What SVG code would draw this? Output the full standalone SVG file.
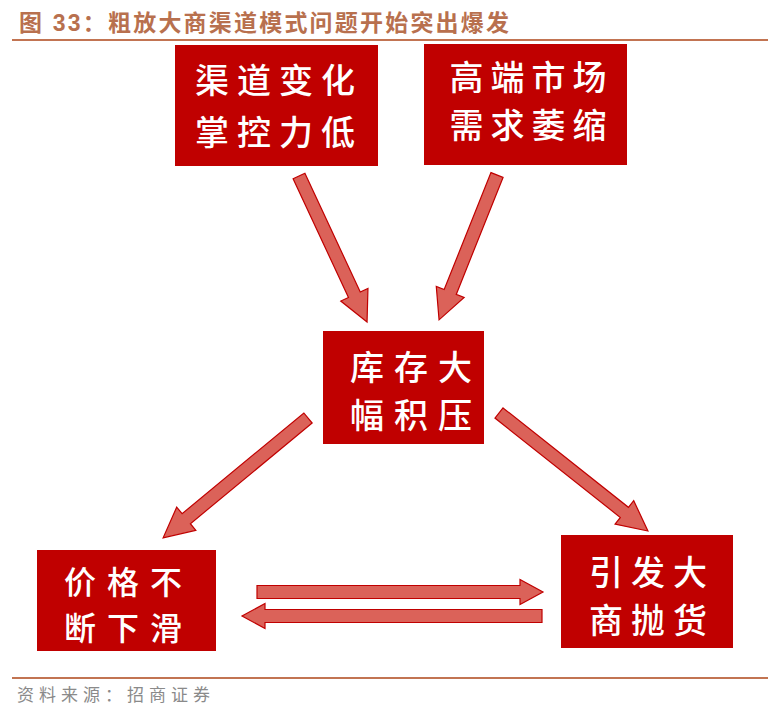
<svg xmlns="http://www.w3.org/2000/svg" width="768" height="718" viewBox="0 0 768 718">
<style>
.title{font-family:"Liberation Sans","Noto Sans CJK SC",sans-serif;font-weight:700;font-size:23px;fill:#B8704E}
.src{font-family:"Noto Sans CJK SC",sans-serif;font-size:17px;fill:#8a8a8a}
.box{fill:#C00000}
.lbl{font-family:"Noto Sans CJK SC",sans-serif;font-weight:500;font-size:34px;fill:#ffffff;dominant-baseline:central}
.sm{font-size:32px}
.arr{fill:#DB6259;stroke:#C00000;stroke-width:1.2;stroke-linejoin:miter}
.rule{stroke:#C27452;stroke-width:2}
</style>
<rect width="768" height="718" fill="#ffffff"/>
<text class="title" x="19" y="31" textLength="490" lengthAdjust="spacing">图 33：粗放大商渠道模式问题开始突出爆发</text>
<line class="rule" x1="12" y1="40" x2="768" y2="40"/>

<g id="connectors">
  <path class="arr" transform="translate(299,176) rotate(65)" d="M0,-6.5 L131,-6.5 L131,-15 L161,0 L131,15 L131,6.5 L0,6.5 Z"/>
  <path class="arr" transform="translate(497,175) rotate(111.8)" d="M0,-6.5 L126,-6.5 L126,-15 L156,0 L126,15 L126,6.5 L0,6.5 Z"/>
  <path class="arr" transform="translate(308,418) rotate(140.4)" d="M0,-6.5 L158,-6.5 L158,-15 L188,0 L158,15 L158,6.5 L0,6.5 Z"/>
  <path class="arr" transform="translate(499,413) rotate(38.4)" d="M0,-6.5 L160,-6.5 L160,-15 L190,0 L160,15 L160,6.5 L0,6.5 Z"/>
  <path class="arr" transform="translate(257,592)" d="M0,-6.5 L263,-6.5 L263,-12.5 L286,0 L263,12.5 L263,6.5 L0,6.5 Z"/>
  <path class="arr" transform="translate(542,616) rotate(180)" d="M0,-6.5 L277,-6.5 L277,-12.5 L300,0 L277,12.5 L277,6.5 L0,6.5 Z"/>
</g>

<g id="node-channel">
  <rect class="box" x="175" y="45" width="203" height="121"/>
  <text class="lbl" x="275" y="78" text-anchor="middle" textLength="160" lengthAdjust="spacing">渠道变化</text>
  <text class="lbl" x="275" y="130" text-anchor="middle" textLength="160" lengthAdjust="spacing">掌控力低</text>
</g>
<g id="node-highend">
  <rect class="box" x="424" y="44" width="203" height="121"/>
  <text class="lbl" x="528" y="75" text-anchor="middle" textLength="157" lengthAdjust="spacing">高端市场</text>
  <text class="lbl" x="528" y="123" text-anchor="middle" textLength="157" lengthAdjust="spacing">需求萎缩</text>
</g>
<g id="node-inventory">
  <rect class="box" x="323" y="331" width="161" height="113"/>
  <text class="lbl" x="411" y="365" text-anchor="middle" textLength="122" lengthAdjust="spacing">库存大</text>
  <text class="lbl" x="411" y="413" text-anchor="middle" textLength="122" lengthAdjust="spacing">幅积压</text>
</g>
<g id="node-price">
  <rect class="box" x="37" y="550" width="179" height="101"/>
  <text class="lbl sm" x="123" y="580" text-anchor="middle" textLength="118" lengthAdjust="spacing">价格不</text>
  <text class="lbl sm" x="123" y="626" text-anchor="middle" textLength="118" lengthAdjust="spacing">断下滑</text>
</g>
<g id="node-dump">
  <rect class="box" x="561" y="535" width="172" height="113"/>
  <text class="lbl" x="648" y="570" text-anchor="middle" textLength="118" lengthAdjust="spacing">引发大</text>
  <text class="lbl" x="648" y="618" text-anchor="middle" textLength="118" lengthAdjust="spacing">商抛货</text>
</g>

<line class="rule" x1="12" y1="678" x2="768" y2="678"/>
<text class="src" x="17" y="701" textLength="193" lengthAdjust="spacing">资料来源：招商证券</text>
</svg>
